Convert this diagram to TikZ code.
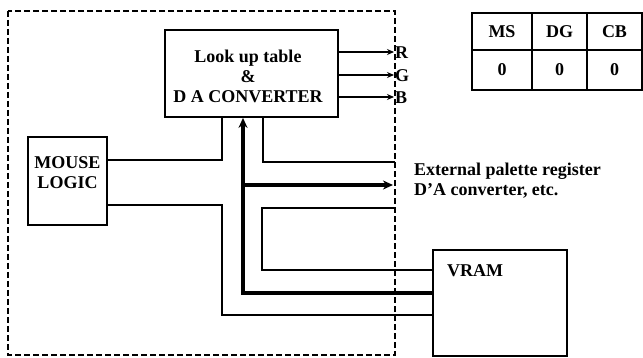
\documentclass[tikz,border=0pt]{standalone}
\usepackage{fontspec}
\setmainfont{Liberation Serif}
\usetikzlibrary{arrows.meta}
\begin{document}
\begin{tikzpicture}[x=1pt,y=-1pt,
  box/.style={draw,line width=1.8pt,inner sep=0pt},
  txt/.style={font=\fontsize{18}{20}\selectfont\bfseries,inner sep=0pt},
  wire/.style={line width=1.8pt},
  rgb/.style={line width=2.2pt,-{Stealth[length=7pt,width=6pt]}},
  bus/.style={line width=4.5pt},
  bustip/.style={-{Stealth[length=10pt,width=9pt]}},
  border/.style={line width=1.9pt,dash pattern=on 6pt off 3pt}]
\useasboundingbox (0,0) rectangle (643,358);
% dashed enclosure
\draw[border] (8,11) rectangle (395,355);
% blocks
\node[box,minimum width=173pt,minimum height=87pt] (lut) at (251.5,73.5) {};
\node[txt,align=center] (luttxt) at (248,76) {Look up table\\\&\\D A CONVERTER};
\node[box,minimum width=79pt,minimum height=88pt] (mouse) at (67.5,181) {};
\node[txt,align=center] (mousetxt) at (67.5,173) {MOUSE\\LOGIC};
\node[box,minimum width=134pt,minimum height=106pt] (vram) at (500,303) {};
\node[txt,anchor=west] (vramtxt) at (447,271) {VRAM};
% register table
\foreach \n/\x/\w/\t in {a/502/60/MS,b/559.5/55/DG,c/614.5/55/CB}{
  \node[box,minimum width=\w pt,minimum height=37pt,txt] (\n1) at (\x,31.5) {\t};
  \node[box,minimum width=\w pt,minimum height=40pt,txt] (\n2) at (\x,70) {0};
}
% RGB outputs
\coordinate (Rend) at (394,52);
\coordinate (Gend) at (394,75);
\coordinate (Bend) at (394,97);
\node[txt,anchor=west] (Rl) at (395,53) {R};
\node[txt,anchor=west] (Gl) at (395,76) {G};
\node[txt,anchor=west] (Bl) at (395,98) {B};
\draw[rgb] (lut.east |- Rend) -- (Rend);
\draw[rgb] (lut.east |- Gend) -- (Gend);
\draw[rgb] (lut.east |- Bend) -- (Bend);
% mouse logic wires
\coordinate (m1) at (222,160);
\coordinate (m2) at (222,205);
\coordinate (m3) at (222,315);
\draw[wire] (mouse.east |- m1) -- (m1) -- (m1 |- lut.south);
\draw[wire] (mouse.east |- m2) -- (m2) -- (m3) -- (vram.west |- m3);
% data bus
\coordinate (b1) at (243,293);
\coordinate (b2) at (243,185);
\coordinate (busend) at (393,185);
\draw[bus,bustip] (vram.west |- b1) -- (b1) -- (b1 |- lut.south);
\draw[bus,bustip] (b2) -- (busend);
% external lines
\coordinate (e1) at (263,162);
\coordinate (ext1) at (395,162);
\draw[wire] (lut.south -| e1) -- (e1) -- (ext1);
\coordinate (l1) at (262,208);
\coordinate (l2) at (262,270);
\coordinate (ext2) at (395,208);
\draw[wire] (ext2) -- (l1) -- (l2) -- (vram.west |- l2);
\node[txt,anchor=west,align=left] (exttxt) at (414,181) {External palette register\\D’A converter, etc.};
\end{tikzpicture}
\end{document}
